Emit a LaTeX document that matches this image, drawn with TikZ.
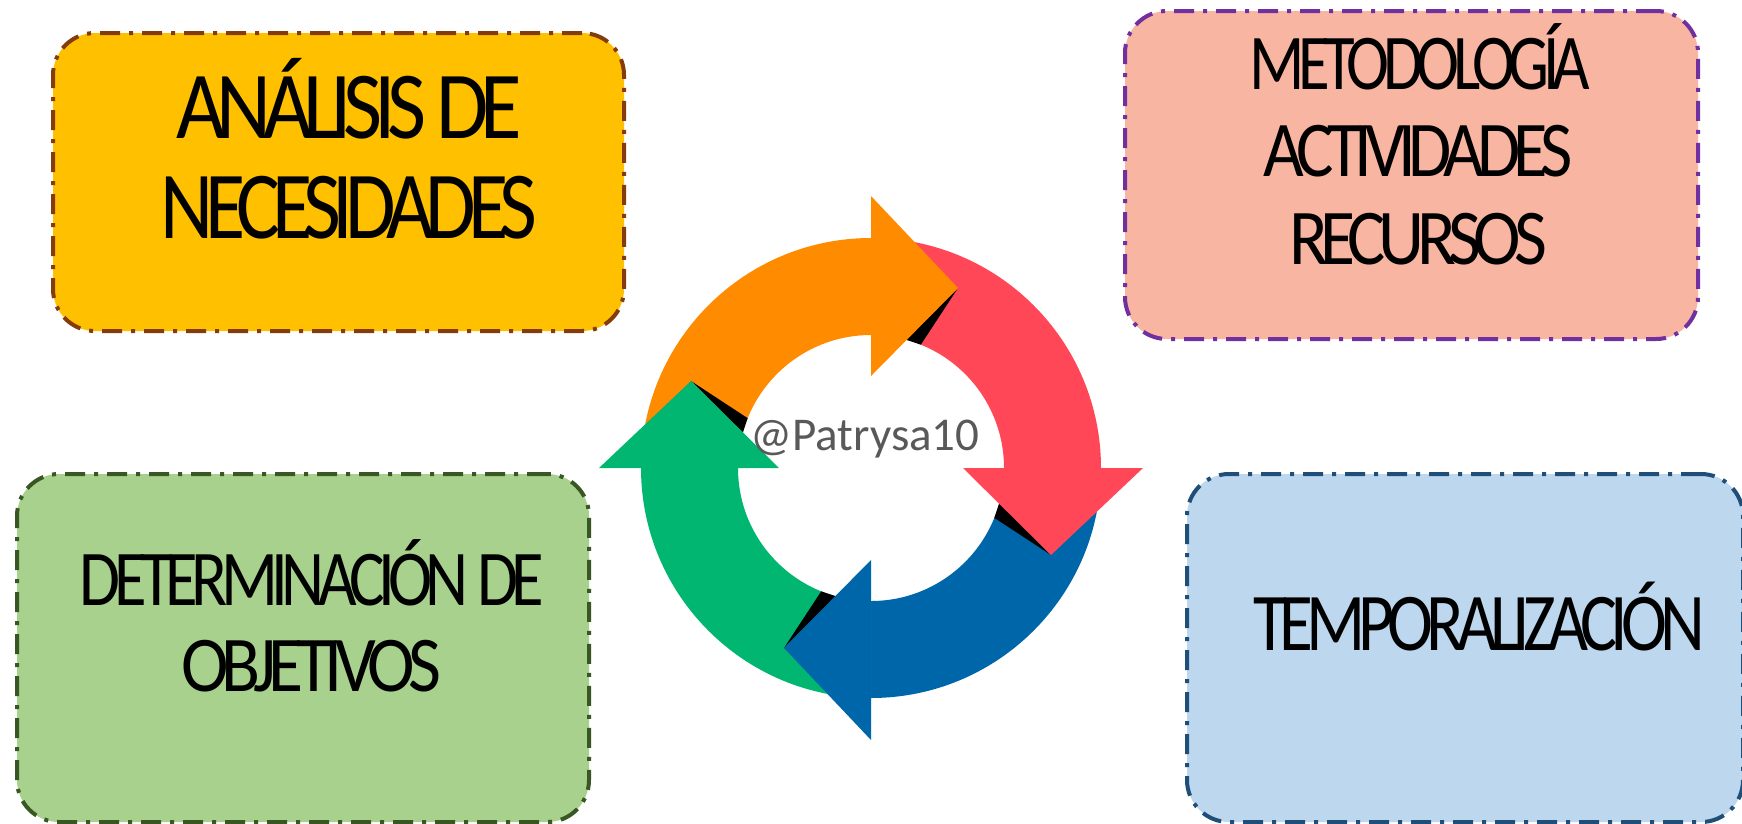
\documentclass[tikz,border=0pt]{standalone}
\usepackage{fontspec}
\setmainfont{Carlito}
\newfontfamily\tightfont[LetterSpace=-10]{Carlito}
\usepackage{graphicx}
\definecolor{fillA}{HTML}{FFC000}
\definecolor{lineA}{HTML}{843C0C}
\definecolor{fillB}{HTML}{F8B6A2}
\definecolor{lineB}{HTML}{7030A0}
\definecolor{fillC}{HTML}{A9D18E}
\definecolor{lineC}{HTML}{385723}
\definecolor{fillD}{HTML}{BDD7EE}
\definecolor{lineD}{HTML}{1F4E79}
\definecolor{arrOrange}{HTML}{FF8C00}
\definecolor{arrRed}{HTML}{FF4757}
\definecolor{arrBlue}{HTML}{0066AA}
\definecolor{arrGreen}{HTML}{00B670}
\definecolor{wmgray}{HTML}{595959}
\newcommand{\sqline}[3]{\resizebox{#1pt}{\height}{\tightfont\fontsize{#2pt}{#2pt}\selectfont #3}}
\begin{document}
\begin{tikzpicture}[x=1pt,y=-1pt,
  card/.style={rounded corners=42pt, line width=4pt, dash pattern=on 20pt off 9pt on 4pt off 9pt, inner sep=0pt, outer sep=0pt, anchor=north west},
  word/.style={inner sep=0pt, anchor=base}]
\useasboundingbox (0,0) rectangle (1742,823);
\fill[white] (0,0) rectangle (1742,823);

% boxes
\node[card, draw=lineA, fill=fillA, minimum width=571pt, minimum height=298pt] (boxA) at (53,33) {};
\node[card, draw=lineB, fill=fillB, minimum width=573pt, minimum height=328pt] (boxB) at (1125,11) {};
\node[card, draw=lineC, fill=fillC, minimum width=572pt, minimum height=348pt] (boxC) at (17,474) {};
\node[card, draw=lineD, fill=fillD, minimum width=556pt, minimum height=348pt] (boxD) at (1187,474) {};

% texts
\node[word] (a1) at (349,138) {\sqline{346}{96}{ANÁLISIS DE}};
\node[word] (a2) at (349,238) {\sqline{376}{96}{NECESIDADES}};
\node[word] (b1) at (1420,89) {\sqline{341}{79}{METODOLOGÍA}};
\node[word] (b2) at (1418,176) {\sqline{309}{79}{ACTIVIDADES}};
\node[word] (b3) at (1418,264) {\sqline{258}{79}{RECURSOS}};
\node[word] (c1) at (312,605) {\sqline{464}{79}{DETERMINACIÓN DE}};
\node[word] (c2) at (311,691) {\sqline{260}{79}{OBJETIVOS}};
\node[word] (d1) at (1479,650) {\sqline{452}{82}{TEMPORALIZACIÓN}};

% cycle of arrows
\begin{scope}[shift={(871,468)}, x=1pt, y=1pt]
  \foreach \r/\c in {0/arrOrange,-90/arrRed,-180/arrBlue,-270/arrGreen}{
    \fill[\c, rotate=\r] (180:230) arc[start angle=180, end angle=90, radius=230]
      -- (90:133) arc[start angle=90, end angle=180, radius=133] -- cycle;
  }
  \foreach \r in {0,-90,-180,-270}{
    \fill[black, rotate=\r] (87,180) -- (74.6:133) -- (68:133) -- cycle;
  }
  \foreach \r/\c in {0/arrOrange,-90/arrRed,-180/arrBlue,-270/arrGreen}{
    \fill[\c, rotate=\r] (0,92) -- (0,272) -- (87,180) -- cycle;
  }
\end{scope}

\node[word, text=wmgray, font=\fontsize{47pt}{47pt}\selectfont] (mark) at (865,450) {@Patrysa10};
\end{tikzpicture}
\end{document}
